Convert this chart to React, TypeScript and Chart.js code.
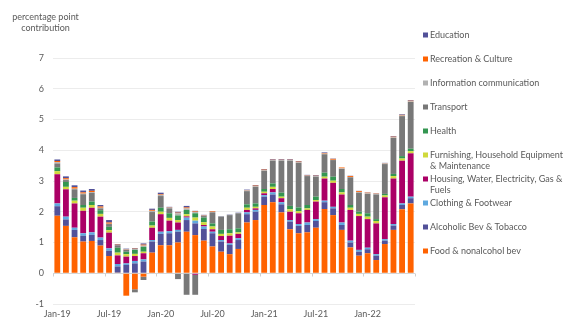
import React, { useEffect, useRef } from 'react';
import { Chart, registerables } from 'chart.js';

Chart.register(...registerables);

const months = [
  'Jan-19','Feb-19','Mar-19','Apr-19','May-19','Jun-19','Jul-19','Aug-19','Sep-19','Oct-19','Nov-19','Dec-19',
  'Jan-20','Feb-20','Mar-20','Apr-20','May-20','Jun-20','Jul-20','Aug-20','Sep-20','Oct-20','Nov-20','Dec-20',
  'Jan-21','Feb-21','Mar-21','Apr-21','May-21','Jun-21','Jul-21','Aug-21','Sep-21','Oct-21','Nov-21','Dec-21',
  'Jan-22','Feb-22','Mar-22','Apr-22','May-22','Jun-22',
];

const food = [1.87,1.54,1.17,1.03,1.05,0.90,0.56,0.02,-0.73,-0.52,-0.11,0.67,
  0.91,0.91,1.00,1.35,1.24,1.06,0.87,0.70,0.62,0.79,1.65,1.73,
  2.22,2.31,1.98,1.43,1.30,1.33,1.48,2.09,1.89,1.41,0.84,0.57,
  0.65,0.43,0.95,1.41,2.08,2.27];
const alcohol = [0.31,0.21,0.24,0.19,0.20,0.18,0.17,0.20,0.27,0.32,0.38,0.36,
  0.37,0.39,0.35,0.38,0.38,0.38,0.43,0.33,0.30,0.29,0.27,0.27,
  0.27,0.25,0.26,0.25,0.24,0.24,0.22,0.22,0.22,0.16,0.16,0.13,
  0.13,0.14,0.11,0.14,0.14,0.17];
const clothing = [0.09,0.09,0.07,0.08,0.08,0.08,0.08,0.08,0.05,0.08,0.07,0.05,
  0.07,0.07,0.06,0.08,0.09,0.08,0.05,0.05,0.05,0.06,0.06,0.06,
  0.05,0.07,0.07,0.05,0.06,0.08,0.06,0.05,0.05,0.08,0.06,0.06,
  0.05,0.05,0.05,0.05,0.05,0.05];
const housing = [0.95,0.89,0.79,0.73,0.80,0.68,0.51,0.28,0.22,0.16,0.20,0.40,
  0.57,0.34,0.24,0.04,-0.05,0.05,0.08,0.13,0.25,0.14,0.08,0.05,
  0.06,0.11,0.13,0.27,0.35,0.41,0.57,0.72,0.78,0.91,1.00,1.10,
  0.93,1.00,1.36,1.48,1.39,1.41];
const furnishing = [0.10,0.08,0.09,0.10,0.09,0.09,0.08,0.09,0.08,0.07,0.05,0.07,
  0.08,0.09,0.08,0.07,0.10,0.09,0.09,0.07,0.08,0.05,0.07,0.05,
  0.05,0.07,0.05,0.08,0.07,0.05,0.05,0.06,0.07,0.07,0.07,0.07,
  0.08,0.08,0.06,0.08,0.07,0.07];
const health = [0.12,0.16,0.09,0.09,0.11,0.12,0.11,0.16,0.08,0.13,0.16,0.13,
  0.13,0.15,0.15,0.14,0.14,0.15,0.10,0.13,0.13,0.13,0.11,0.11,
  0.09,0.11,0.13,0.11,0.12,0.11,0.11,0.13,0.13,0.11,0.09,0.07,
  0.11,0.06,0.05,0.07,0.08,0.08];
const transport = [0.13,0.06,0.28,0.35,0.29,0.06,0.09,0.08,0.06,-0.10,-0.11,0.31,
  0.38,0.16,-0.19,-0.70,-0.65,0.05,0.36,0.43,0.46,0.49,0.43,0.54,
  0.59,0.74,1.04,1.47,1.45,0.94,0.65,0.60,0.54,0.65,0.90,0.62,
  0.63,0.80,0.97,1.17,1.30,1.52];
const infoComm = [0.04,0.02,0.02,0.02,0.02,0.02,0.01,0.01,0.01,0.03,0.04,0.04,
  0.04,0.02,0.07,0.05,0.04,0.01,0.01,0.01,0.01,0.01,0.02,0.02,
  0.02,0.02,0.02,0.02,0.02,0.01,0.02,0.02,0.01,0.02,0.01,0.02,
  0.02,0.02,0.02,0.02,0.02,0.02];
const recreation = [0.04,0.04,0.05,0.04,0.04,0.04,0.04,0.01,0.01,0.01,0.03,0.03,
  0.02,0.01,0.02,0.03,0.02,0.01,0.02,0.00,0.00,0.00,0.01,0.02,
  0.02,0.01,0.01,0.01,0.02,0.01,0.01,0.02,0.03,0.03,0.03,0.03,
  0.02,0.01,0.01,0.02,0.02,0.02];
const education = [0.05,0.06,0.06,0.06,0.06,0.05,0.08,0.02,0.02,0.02,0.04,0.04,
  0.05,0.02,0.03,0.05,0.02,0.02,0.01,0.01,0.01,0.01,0.02,0.02,
  0.02,0.02,0.02,0.02,0.02,0.02,0.02,0.02,0.01,0.00,0.01,0.01,
  0.01,0.01,0.01,0.02,0.02,0.02];

const seriesNames = [
  'Food & nonalcohol bev',
  'Alcoholic Bev & Tobacco',
  'Clothing & Footwear',
  'Housing, Water, Electricity, Gas & Fuels',
  'Furnishing, Household Equipment & Maintenance',
  'Health',
  'Transport',
  'Information communication',
  'Recreation & Culture',
  'Education',
];
const legendLines = [
  ['Food & nonalcohol bev'],
  ['Alcoholic Bev & Tobacco'],
  ['Clothing & Footwear'],
  ['Housing, Water, Electricity, Gas &', 'Fuels'],
  ['Furnishing, Household Equipment', '& Maintenance'],
  ['Health'],
  ['Transport'],
  ['Information communication'],
  ['Recreation & Culture'],
  ['Education'],
];
const seriesValues = [food, alcohol, clothing, housing, furnishing, health, transport, infoComm, recreation, education];
const seriesColors = ['#FF6200', '#525199', '#5FA9DF', '#AB0066', '#D0D93C', '#349651', '#787878', '#B2B2B2', '#FF6200', '#525199'];
const yTitle = ['percentage point', 'contribution'];

const FONT = 'Lato, "DejaVu Sans", sans-serif';
const TEXT = '#5a5a5a';

const extrasPlugin = {
  id: 'extras',
  afterDraw(chart: any) {
    const { ctx, chartArea, scales } = chart;
    const x = scales.x;
    const y = scales.y;
    ctx.save();
    const y0 = Math.round(y.getPixelForValue(0)) + 0.5;
    const n = months.length;
    ctx.strokeStyle = '#cfcfcf';
    ctx.lineWidth = 1;
    for (let i = 0; i <= n; i += 6) {
      const px = Math.round(x.left + (i * x.width) / n) + 0.5;
      ctx.beginPath();
      ctx.moveTo(px, y0);
      ctx.lineTo(px, y0 + 3);
      ctx.stroke();
    }
    ctx.fillStyle = TEXT;
    ctx.font = '9px ' + FONT;
    ctx.textAlign = 'center';
    ctx.textBaseline = 'middle';
    yTitle.forEach((t, i) => ctx.fillText(t, 45.5, 17 + i * 11));
    const lx = chartArea.right + 8;
    ctx.textAlign = 'left';
    const ds = chart.data.datasets;
    for (let k = 0; k < ds.length; k++) {
      const i = ds.length - 1 - k;
      const ly = 35 + k * 24;
      ctx.fillStyle = ds[i].backgroundColor;
      ctx.fillRect(lx, ly - 2.5, 5, 5);
      ctx.fillStyle = TEXT;
      legendLines[i].forEach((t, j) => ctx.fillText(t, lx + 7, ly + j * 11));
    }
    ctx.restore();
  },
};

export default function App() {
  const ref = useRef<HTMLCanvasElement>(null);
  useEffect(() => {
    if (!ref.current) return;
    const chart = new Chart(ref.current, {
      type: 'bar',
      data: {
        labels: months,
        datasets: seriesValues.map((vals, i) => ({
          label: seriesNames[i],
          data: vals,
          backgroundColor: seriesColors[i],
          borderWidth: 0,
          barPercentage: 0.9,
          categoryPercentage: 0.75,
        })),
      },
      options: {
        animation: false,
        responsive: true,
        maintainAspectRatio: false,
        layout: { padding: { left: 0, right: 153, top: 58, bottom: 0 } },
        plugins: {
          legend: { display: false },
          tooltip: { enabled: false },
          title: { display: false },
        },
        scales: {
          x: {
            stacked: true,
            grid: { display: false, drawTicks: false },
            border: { display: false },
            ticks: {
              autoSkip: false,
              maxRotation: 0,
              padding: 5,
              color: TEXT,
              font: { family: FONT, size: 9 },
              callback: (_v: any, i: number) => (i % 6 === 0 ? months[i] : ''),
            },
            afterFit: (s: any) => { s.height = 20; },
          },
          y: {
            stacked: true,
            min: -1,
            max: 7,
            grid: {
              drawTicks: false,
              color: (c: any) => (c.tick && c.tick.value === 0 ? '#d6d6d6' : '#ececec'),
            },
            border: { display: false },
            ticks: {
              stepSize: 1,
              padding: 9,
              color: TEXT,
              font: { family: FONT, size: 9 },
            },
            afterFit: (s: any) => { s.width = 53; },
          },
        },
      },
      plugins: [extrasPlugin],
    });
    return () => chart.destroy();
  }, []);
  return (
    <div style={{ position: 'fixed', left: 0, top: 0, width: 568, height: 324, background: '#fff' }}>
      <canvas ref={ref} />
    </div>
  );
}
